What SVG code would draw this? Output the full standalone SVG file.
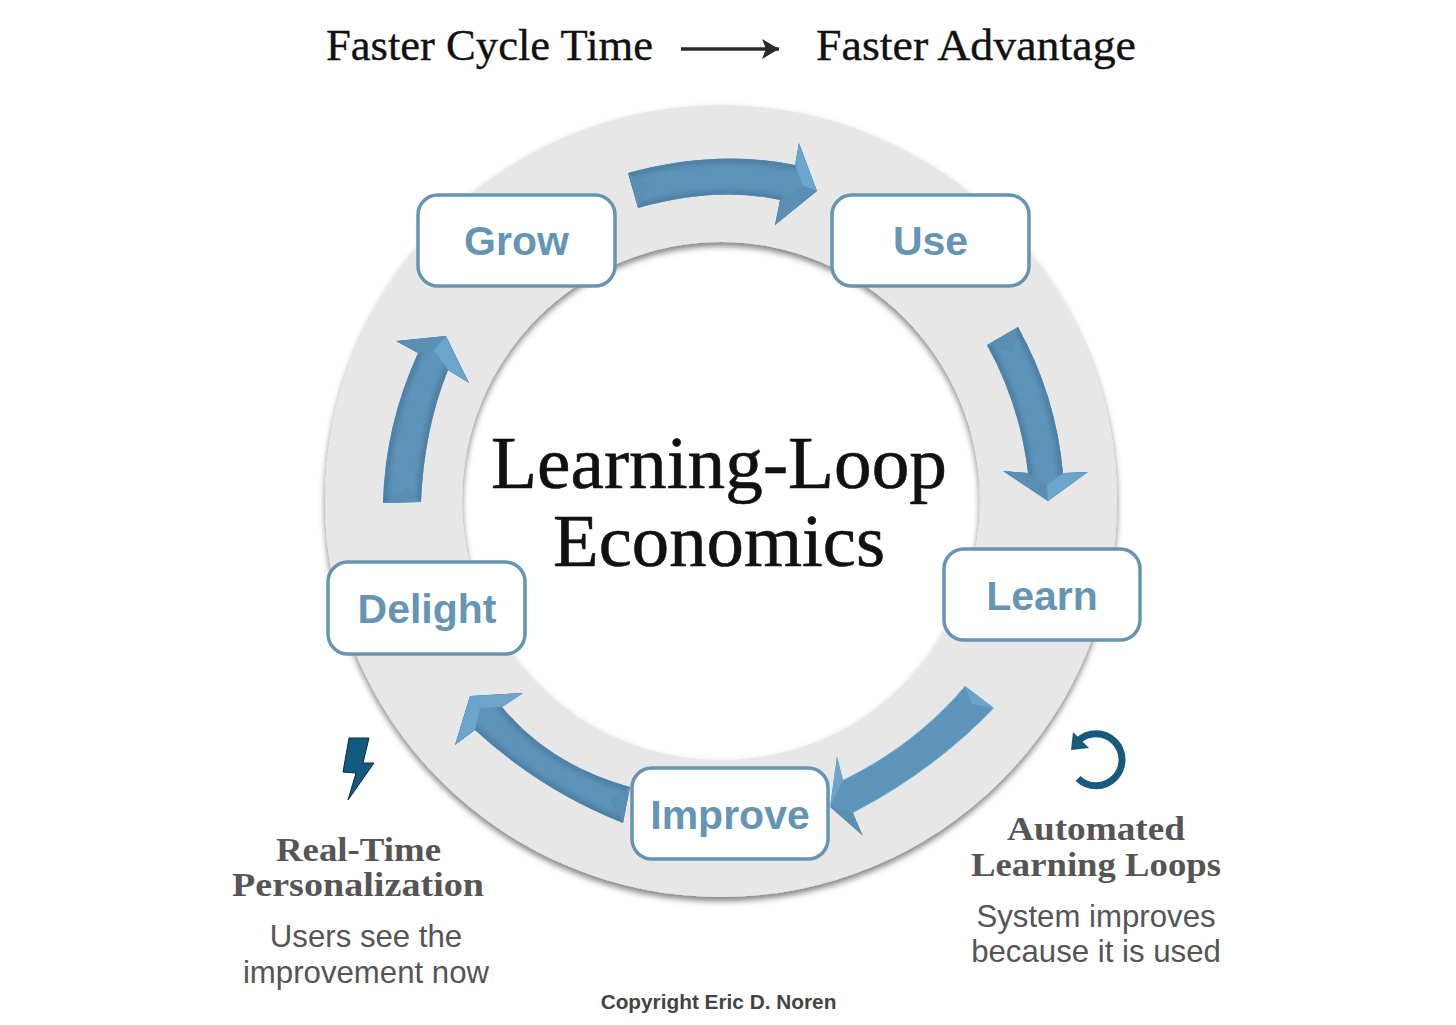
<svg xmlns="http://www.w3.org/2000/svg" width="1456" height="1025" viewBox="0 0 1456 1025">
<style>
.top{font-family:"Liberation Serif",serif;font-size:44px;fill:#111;stroke:#111;stroke-width:.35}
.title{font-family:"Liberation Serif",serif;font-size:74px;fill:#111;stroke:#111;stroke-width:.6}
.node{fill:#fff;stroke:#6694b3;stroke-width:3.5}
.lbl{font-family:"Liberation Sans",sans-serif;font-weight:700;font-size:41px;fill:#6694b3;text-anchor:middle}
.head{font-family:"Liberation Serif",serif;font-weight:700;font-size:34px;fill:#555}
.sub{font-family:"Liberation Sans",sans-serif;font-size:31.2px;fill:#555;text-anchor:middle}
.body{fill:#5f94ba;stroke:#73acd3;stroke-width:1.5}
.edge{fill:none;stroke:#4a7a9e;stroke-width:8;filter:url(#soft)}
.lt{fill:#6ca5cc}
.dk{fill:#5a8eb2}
</style>
<defs>
<filter id="ringshadow" x="-5%" y="-5%" width="110%" height="110%"><feDropShadow dx="0" dy="4" stdDeviation="3" flood-color="#000" flood-opacity="0.5"/></filter>
<filter id="soft" x="-20%" y="-20%" width="140%" height="140%"><feGaussianBlur stdDeviation="3"/></filter>
<marker id="ah" markerWidth="20" markerHeight="22" refX="18" refY="11" orient="auto" markerUnits="userSpaceOnUse"><path d="M1 1L18 11L1 21L5 11Z" fill="#2a2a2a"/></marker>
<path id="a1" d="M628 173Q717 149 795 165L799 143L817 191L775 225L780 200Q717 186 638 208Z"/>
<path id="a2" d="M987 345L1018 327Q1056 395 1063 473L1088 472L1048 501L1003 471L1028 473Q1020 405 987 345Z"/>
<path id="a3" d="M965 686L994 708Q935 770 853 813L863 836L830 807L837 756L843 780Q915 745 965 686Z"/>
<path id="a4" d="M630 787Q550 765 502 707L523 693L470 696L455 745L475 730Q540 790 623 823Z"/>
<path id="a5" d="M383 503L421 502Q424 430 448 370L469 383L446 336L396 341L418 353Q385 425 383 503Z"/>
<clipPath id="c1"><use href="#a1"/></clipPath><clipPath id="c2"><use href="#a2"/></clipPath><clipPath id="c3"><use href="#a3"/></clipPath><clipPath id="c4"><use href="#a4"/></clipPath><clipPath id="c5"><use href="#a5"/></clipPath>
</defs>
<rect width="1456" height="1025" fill="#fff"/>
<path id="ring" d="M325 501a396 396 0 1 0 792 0a396 396 0 1 0 -792 0ZM462 501a259 259 0 1 1 518 0a259 259 0 1 1 -518 0Z" fill="#e7e7e7" fill-rule="evenodd" filter="url(#ringshadow)"/>
<g id="connectors">
<g clip-path="url(#c1)"><use href="#a1" class="body"/><use href="#a1" class="edge"/><polygon class="dk" points="628,173 638,208 650,186"/><polygon class="lt" points="799,143 817,191 803,186 795,165"/><polygon class="dk" points="817,191 775,225 780,200 803,186"/></g>
<g clip-path="url(#c2)"><use href="#a2" class="body"/><use href="#a2" class="edge"/><polygon class="dk" points="987,345 1018,327 1012,352"/><polygon class="dk" points="1003,471 1048,501 1047,485 1028,473"/><polygon class="lt" points="1088,472 1048,501 1047,485 1063,473"/></g>
<g clip-path="url(#c3)"><use href="#a3" class="body"/><polygon class="lt" points="965,686 994,708 972,704"/><polygon class="lt" points="837,756 830,807 843,780"/><polygon class="dk" points="863,836 830,807 853,813"/></g>
<g clip-path="url(#c4)"><use href="#a4" class="body"/><use href="#a4" class="edge"/><polygon class="dk" points="630,787 623,823 610,800"/><polygon class="lt" points="470,696 523,693 502,707 480,708"/><polygon class="lt" points="470,696 455,745 475,730 480,708"/></g>
<g clip-path="url(#c5)"><use href="#a5" class="body"/><use href="#a5" class="edge"/><polygon class="dk" points="383,503 421,502 408,488"/><polygon class="dk" points="396,341 446,336 434,350 418,353"/><polygon class="lt" points="446,336 469,383 448,370 434,350"/></g>
<line x1="681" y1="49" x2="779" y2="49" stroke="#2a2a2a" stroke-width="3.500" marker-end="url(#ah)"/>
</g>
<text class="top" x="326" y="60" textLength="327" lengthAdjust="spacingAndGlyphs">Faster Cycle Time</text>
<text class="top" x="816" y="60" textLength="320" lengthAdjust="spacingAndGlyphs">Faster Advantage</text>
<text class="title" x="491" y="488" textLength="456" lengthAdjust="spacingAndGlyphs">Learning-Loop</text>
<text class="title" x="553" y="566" textLength="332" lengthAdjust="spacingAndGlyphs">Economics</text>
<g id="grow"><rect class="node" x="418" y="195" width="197" height="91" rx="20"/><text class="lbl" x="516.500" y="255">Grow</text></g>
<g id="use"><rect class="node" x="832" y="195" width="197" height="91" rx="20"/><text class="lbl" x="930.500" y="255">Use</text></g>
<g id="learn"><rect class="node" x="944" y="549" width="196" height="91" rx="20"/><text class="lbl" x="1042" y="610">Learn</text></g>
<g id="improve"><rect class="node" x="632" y="768" width="196" height="91" rx="20"/><text class="lbl" x="730" y="829">Improve</text></g>
<g id="delight"><rect class="node" x="328" y="562" width="197" height="92" rx="20"/><text class="lbl" x="427" y="623">Delight</text></g>
<g id="bolt"><polygon points="349,738 369,738 363,763 374,763 348,800 356,773 343,772" fill="#12597f" stroke="#0b2c40" stroke-width="1"/></g>
<g id="undo"><path d="M1078 741A26 26 0 1 1 1078 778.500" fill="none" stroke="#17597f" stroke-width="7"/><polygon points="1073,732 1071,750 1089,748" fill="#17597f"/></g>
<text class="head" x="276" y="861" textLength="165" lengthAdjust="spacingAndGlyphs">Real-Time</text>
<text class="head" x="232" y="896" textLength="252" lengthAdjust="spacingAndGlyphs">Personalization</text>
<text class="sub" x="366" y="947">Users see the</text>
<text class="sub" x="366" y="983">improvement now</text>
<text class="head" x="1007" y="840" textLength="178" lengthAdjust="spacingAndGlyphs">Automated</text>
<text class="head" x="971" y="876" textLength="250" lengthAdjust="spacingAndGlyphs">Learning Loops</text>
<text class="sub" x="1096" y="927">System improves</text>
<text class="sub" x="1096" y="962">because it is used</text>
<text x="718.500" y="1009" font-family="'Liberation Sans',sans-serif" font-weight="700" font-size="20.800" fill="#444" text-anchor="middle">Copyright Eric D. Noren</text>
</svg>
